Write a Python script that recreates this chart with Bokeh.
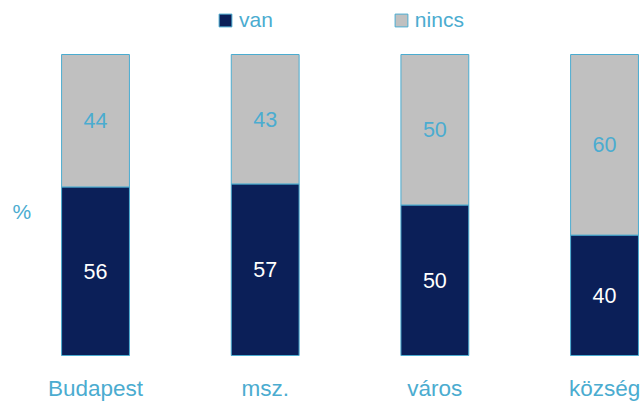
from bokeh.plotting import figure
from bokeh.models import ColumnDataSource, Range1d, Legend, LegendItem
from bokeh.core.properties import value
from bokeh.embed import file_html
from bokeh.resources import INLINE

categories = ["Budapest", "msz.", "város", "község"]
van = [56, 57, 50, 40]
nincs = [44, 43, 50, 60]
series_names = ["van", "nincs"]

NAVY = "#0B1F58"
GREY = "#C0C0C0"
BLUE = "#4BACD0"
FONT = "Liberation Sans"

x = list(range(len(categories)))
src = ColumnDataSource(dict(
    x=x, cat=categories, van=van, nincs=nincs,
    top=[a + b for a, b in zip(van, nincs)],
    van_mid=[v / 2 for v in van],
    nincs_mid=[v + n / 2 for v, n in zip(van, nincs)],
    van_txt=[str(v) for v in van],
    nincs_txt=[str(n) for n in nincs],
    lab_y=[-11.0] * len(categories),
))

p = figure(width=640, height=401, output_backend="svg", toolbar_location=None,
           x_range=Range1d(-0.560, 3.212), y_range=Range1d(-15.28, 117.94),
           min_border=0, outline_line_color=None)
p.axis.visible = False
p.grid.visible = False
p.background_fill_color = "white"
p.border_fill_color = "white"

r_van = p.vbar(x="x", bottom=0, top="van", width=0.40, source=src,
               fill_color=NAVY, line_color=BLUE, line_width=1)
r_nincs = p.vbar(x="x", bottom="van", top="top", width=0.40, source=src,
                 fill_color=GREY, line_color=BLUE, line_width=1)

p.text(x="x", y="van_mid", text="van_txt", source=src, text_color="white",
       text_font=value(FONT), text_font_size="21.5px", text_align="center",
       text_baseline="middle")
p.text(x="x", y="nincs_mid", text="nincs_txt", source=src, text_color=BLUE,
       text_font=value(FONT), text_font_size="21.5px", text_align="center",
       text_baseline="middle")
p.text(x="x", y="lab_y", text="cat", source=src, text_color=BLUE,
       text_font=value(FONT), text_font_size="22.5px", text_align="center",
       text_baseline="middle")
p.text(x=[-0.489], y=[47.8], text=["%"], text_color=BLUE,
       text_font=value(FONT), text_font_size="21px", text_align="left",
       text_baseline="middle")

legend = Legend(items=[LegendItem(label=series_names[0], renderers=[r_van]),
                       LegendItem(label=series_names[1], renderers=[r_nincs])],
                orientation="horizontal", location=(217, 369),
                padding=0, margin=0, spacing=120, label_standoff=6,
                glyph_width=16, glyph_height=16,
                label_text_font=FONT, label_text_font_size="21px",
                label_text_color=BLUE, border_line_color=None,
                background_fill_alpha=0)
p.add_layout(legend)

open("out.html", "w").write(file_html(p, INLINE))
